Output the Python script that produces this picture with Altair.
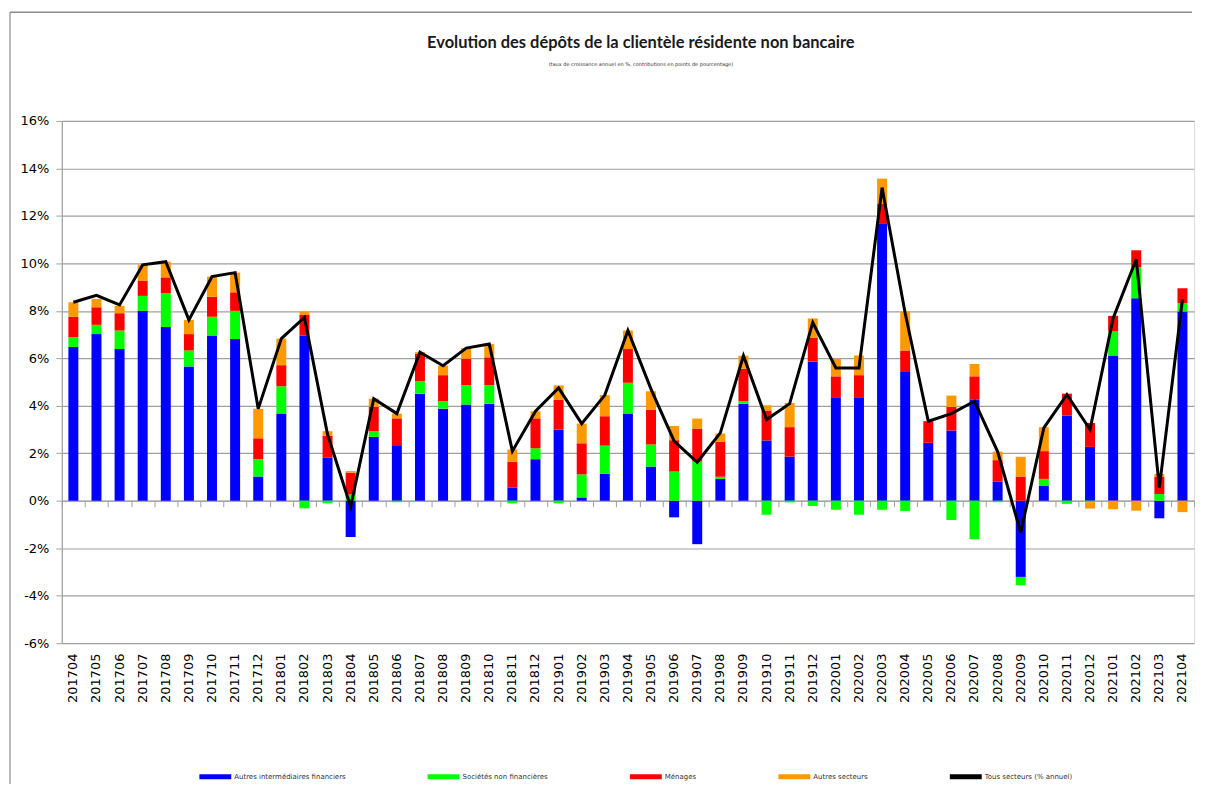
import altair as alt
import pandas as pd

months = ["201704", "201705", "201706", "201707", "201708", "201709", "201710", "201711", "201712",
          "201801", "201802", "201803", "201804", "201805", "201806", "201807", "201808", "201809",
          "201810", "201811", "201812", "201901", "201902", "201903", "201904", "201905", "201906",
          "201907", "201908", "201909", "201910", "201911", "201912", "202001", "202002", "202003",
          "202004", "202005", "202006", "202007", "202008", "202009", "202010", "202011", "202012",
          "202101", "202102", "202103", "202104"]

autres_interm = [6.48, 7.02, 6.39, 8.00, 7.32, 5.66, 6.96, 6.81, 1.02, 3.68, 6.96, 1.81, -1.53,
                 2.69, 2.34, 4.51, 3.88, 4.05, 4.09, 0.56, 1.75, 3.00, 0.14, 1.13, 3.68, 1.44,
                 -0.70, -1.83, 0.92, 4.09, 2.54, 1.86, 5.87, 4.36, 4.36, 11.69, 5.45, 2.44, 2.96,
                 4.26, 0.81, -3.21, 0.64, 3.59, 2.27, 6.12, 8.53, -0.74, 7.97]

societes_nf = [0.41, 0.39, 0.78, 0.63, 1.42, 0.67, 0.79, 1.19, 0.73, 1.14, -0.32, -0.11, 0.27,
               0.24, -0.06, 0.52, 0.32, 0.82, 0.78, -0.11, 0.46, -0.11, 0.97, 1.19, 1.29, 0.93,
               1.23, 1.65, 0.09, 0.11, -0.59, -0.07, -0.22, -0.38, -0.59, -0.38, -0.43, 0.0,
               -0.81, -1.62, -0.06, -0.35, 0.28, -0.13, -0.06, 1.01, 1.30, 0.28, 0.35]

menages = [0.86, 0.74, 0.73, 0.63, 0.67, 0.69, 0.84, 0.78, 0.88, 0.89, 0.87, 0.93, 0.91,
           1.02, 1.13, 1.16, 1.09, 1.11, 1.17, 1.08, 1.26, 1.26, 1.31, 1.24, 1.42, 1.47,
           1.32, 1.39, 1.47, 1.36, 1.26, 1.24, 0.99, 0.88, 0.93, 0.83, 0.88, 0.91, 0.99,
           0.98, 0.90, 1.02, 1.17, 0.92, 1.01, 0.66, 0.72, 0.73, 0.63]

autres_secteurs = [0.61, 0.35, 0.31, 0.68, 0.66, 0.60, 0.85, 0.83, 1.24, 1.12, 0.14, 0.19, 0.07,
                   0.35, 0.20, 0.07, 0.40, 0.45, 0.56, 0.52, 0.30, 0.60, 0.83, 0.89, 0.78, 0.77,
                   0.60, 0.42, 0.35, 0.55, 0.22, 1.02, 0.82, 0.73, 0.83, 1.05, 1.64, 0.0, 0.48,
                   0.52, 0.36, 0.83, 1.01, 0.0, -0.27, -0.36, -0.42, 0.12, -0.48]

tous_secteurs = [8.36, 8.65, 8.25, 9.94, 10.07, 7.62, 9.44, 9.61, 3.87, 6.83, 7.72, 2.80, -0.25,
                 4.30, 3.67, 6.26, 5.69, 6.43, 6.60, 2.09, 3.77, 4.75, 3.25, 4.45, 7.17, 4.70,
                 2.51, 1.62, 2.86, 6.11, 3.42, 4.09, 7.51, 5.59, 5.59, 13.19, 7.90, 3.35, 3.67,
                 4.19, 2.07, -1.34, 3.07, 4.47, 3.00, 7.69, 10.17, 0.55, 8.49]

bar_series = ["Autres intermédiaires financiers", "Sociétés non financières", "Ménages", "Autres secteurs"]
line_series = "Tous secteurs (% annuel)"
all_series = bar_series + [line_series]
series_colors = ["#0000FF", "#00FF00", "#FF0000", "#FF9900", "#000000"]
y_ticks = [-6, -4, -2, 0, 2, 4, 6, 8, 10, 12, 14, 16]

rows = []
for i, m in enumerate(months):
    for k, vals in enumerate([autres_interm, societes_nf, menages, autres_secteurs]):
        rows.append({"mois": m, "serie": bar_series[k], "ordre": k, "valeur": vals[i]})
bars_df = pd.DataFrame(rows)
line_df = pd.DataFrame({"mois": months, "valeur": tous_secteurs})

W, H = 1136, 524
GRID = "#A0A0A0"
FONT = "DejaVu Sans"

x_scale = alt.Scale(paddingInner=0, paddingOuter=0)
y_scale = alt.Scale(domain=[-6, 16], nice=False)
y_axis = alt.Axis(values=y_ticks, labelExpr="datum.value + '%'", title=None, grid=True,
                  gridColor=GRID, gridWidth=1.2, domainColor=GRID, domainWidth=1.2,
                  tickColor=GRID, tickSize=6, labelPadding=7, labelFont=FONT,
                  labelFontSize=13, labelColor="#000000", orient="left")

legend_symbol = "M-1,-0.16L1,-0.16L1,0.16L-1,0.16Z"

bars = alt.Chart(bars_df).mark_bar(size=10).encode(
    x=alt.X("mois:N", sort=months, scale=x_scale,
            axis=alt.Axis(title=None, orient="bottom", labelAngle=-90, domain=False, ticks=False,
                          labelPadding=10, labelFont=FONT, labelFontSize=13,
                          labelColor="#000000")),
    y=alt.Y("valeur:Q", scale=y_scale, axis=y_axis, stack="zero"),
    color=alt.Color("serie:N", scale=alt.Scale(domain=all_series, range=series_colors),
                    legend=alt.Legend(orient="none", legendX=138, legendY=642,
                                      direction="horizontal", title=None,
                                      symbolType=legend_symbol, symbolSize=1024,
                                      symbolStrokeWidth=0, labelFont=FONT,
                                      labelFontSize=7, labelColor="#333333",
                                      labelOffset=3, columnPadding=82)),
    order=alt.Order("ordre:Q", sort="ascending"),
)

line = alt.Chart(line_df).mark_line(color="#000000", strokeWidth=3).encode(
    x=alt.X("mois:N", sort=months, scale=x_scale,
            axis=alt.Axis(title=None, orient="bottom", labels=False, offset=-(H * 6 / 22),
                          domain=True, domainColor=GRID, domainWidth=1.2, ticks=True,
                          tickSize=6, tickColor=GRID, tickBand="extent", grid=False)),
    y=alt.Y("valeur:Q", scale=y_scale, axis=y_axis),
)

frame_top = alt.Chart(alt.Data(values=[{}])).mark_rule(color="#8C8C8C", strokeWidth=1.5).encode(
    x=alt.value(-52), x2=alt.value(W - 2), y=alt.value(-109), y2=alt.value(-109))
frame_left = alt.Chart(alt.Data(values=[{}])).mark_rule(color="#8C8C8C", strokeWidth=1.2).encode(
    x=alt.value(-52), x2=alt.value(-52), y=alt.value(-109), y2=alt.value(H + 200))

chart = alt.layer(bars, line, frame_top, frame_left).resolve_axis(x="independent").properties(
    width=W, height=H,
    autosize=alt.AutoSizeParams(type="none"),
    padding={"left": 54, "top": 112, "right": 3, "bottom": 140},
    title=alt.Title(
        text="Evolution des dépôts de la clientèle résidente non bancaire",
        subtitle="(taux de croissance annuel en %, contributions en points de pourcentage)",
        anchor="middle", dx=13, offset=-56,
        font="Lato", fontSize=16.5, fontWeight="bold", color="#1A1A1A",
        subtitleFont=FONT, subtitleFontSize=5, subtitleColor="#333333", subtitlePadding=11,
    ),
).configure_view(stroke=None).configure(background="#FFFFFF")

chart.save("out.html", embed_options={"renderer": "svg", "actions": False})
